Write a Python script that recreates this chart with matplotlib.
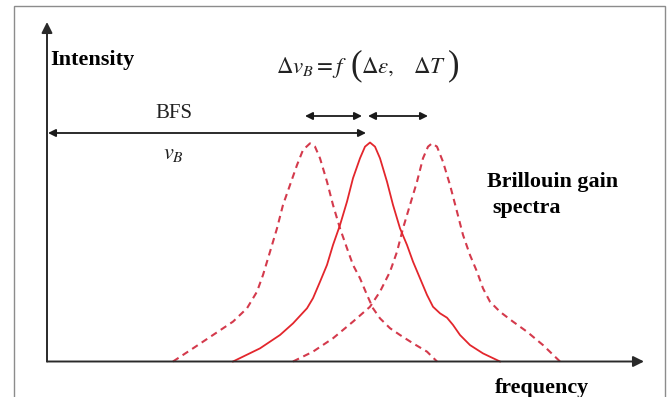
import numpy as np
import matplotlib
matplotlib.use("Agg")
import matplotlib.pyplot as plt
from matplotlib.patches import Rectangle

# frequency (arbitrary units, axis origin = 0) and normalised intensity
freq_center = [186, 213, 233, 246, 260, 266, 273, 280, 286, 293, 300, 306, 313, 318, 323, 328, 333,
               340, 346, 353, 360, 366, 373, 380, 386, 393, 400, 406, 413, 423, 436, 453]
gain_center = [0, 0.060, 0.121, 0.174, 0.243, 0.289, 0.364, 0.441, 0.532, 0.623, 0.730, 0.837, 0.928,
               0.981, 1.0, 0.981, 0.928, 0.821, 0.715, 0.608, 0.532, 0.456, 0.380, 0.304, 0.250,
               0.220, 0.200, 0.167, 0.121, 0.075, 0.037, 0]

freq_left = [126, 146, 166, 186, 200, 210, 216, 223, 230, 236, 243, 250, 256, 263, 268, 273, 280,
             286, 293, 300, 306, 313, 320, 326, 333, 343, 353, 366, 380, 390]
gain_left = [0, 0.060, 0.121, 0.182, 0.243, 0.319, 0.395, 0.501, 0.608, 0.715, 0.806, 0.897, 0.966,
             0.996, 0.981, 0.928, 0.821, 0.715, 0.608, 0.517, 0.441, 0.380, 0.304, 0.243, 0.197,
             0.152, 0.121, 0.083, 0.045, 0]

freq_right = [246, 266, 286, 306, 323, 333, 343, 350, 356, 363, 370, 376, 381, 385, 390, 396, 403,
              410, 416, 423, 430, 436, 443, 453, 466, 480, 496, 513]
gain_right = [0, 0.045, 0.106, 0.182, 0.250, 0.319, 0.410, 0.501, 0.608, 0.715, 0.821, 0.928, 0.981,
              0.996, 0.981, 0.912, 0.806, 0.684, 0.578, 0.486, 0.410, 0.334, 0.273, 0.227, 0.182,
              0.136, 0.075, 0]

W, H = 669, 397
fig = plt.figure(figsize=(W / 100, H / 100), dpi=100)
plt.rcParams['font.family'] = ['Liberation Serif', 'DejaVu Serif']
plt.rcParams['mathtext.fontset'] = 'stix'


def fx(x):
    return x / W


def fy(y):
    return 1 - y / H


# light grey frame around the picture
fig.add_artist(Rectangle((fx(14), fy(H + 20)), fx(665) - fx(14), fy(6) - fy(H + 20),
                         transform=fig.transFigure, fill=False, ec='#8c8c8c', lw=1.0))

base = 361.5   # pixel row of the frequency axis
unit = 219.0   # pixels for intensity 1
ax = fig.add_axes([fx(47), fy(base), fx(644) - fx(47), fy(22) - fy(base)])
ax.set_xlim(0, 597)
ax.set_ylim(0, (base - 22) / unit)
ax.axis('off')

dash = (0, (3.2, 2.3))
ax.plot(freq_left, gain_left, color='#d43a4c', lw=1.5, linestyle=dash, clip_on=False)
ax.plot(freq_right, gain_right, color='#d43a4c', lw=1.5, linestyle=dash, clip_on=False)
ax.plot(freq_center, gain_center, color='#e3262c', lw=1.3, clip_on=False)

# axes with arrow heads
axis_kw = dict(arrowstyle='-|>', lw=1.4, color='#2a2a2a', mutation_scale=16, shrinkA=0, shrinkB=0)
ax.annotate('', xy=(1, 0), xytext=(0, 0), xycoords='axes fraction', arrowprops=axis_kw)
ax.annotate('', xy=(0, 1), xytext=(0, 0), xycoords='axes fraction', arrowprops=axis_kw)

# BFS and shift arrows
pk_l = freq_left[int(np.argmax(gain_left))]
pk_c = freq_center[int(np.argmax(gain_center))]
pk_r = freq_right[int(np.argmax(gain_right))]
arr_kw = dict(arrowstyle='<|-|>', lw=1.3, color='#1a1a1a', mutation_scale=11, shrinkA=0, shrinkB=0)
y_bfs = (base - 133) / unit
y_shift = (base - 116) / unit
ax.annotate('', xy=(1, y_bfs), xytext=(pk_c - 4, y_bfs), arrowprops=arr_kw)
ax.annotate('', xy=(pk_l - 5, y_shift), xytext=(pk_c - 8, y_shift), arrowprops=arr_kw)
ax.annotate('', xy=(pk_c - 2, y_shift), xytext=(pk_r - 4, y_shift), arrowprops=arr_kw)

# labels
ink = '#222222'
fig.text(fx(50), fy(65), 'Intensity', fontsize=16, fontweight='bold', va='baseline', ha='left')
fig.text(fx(174), fy(118), 'BFS', fontsize=15, va='baseline', ha='center', color=ink)
fig.text(fx(173), fy(155), r'$v_B$', fontsize=16, va='center', ha='center', color=ink)

# Δν_B = f(Δε, ΔT) with tall brackets
fig.text(fx(276), fy(73), r'$\Delta v_B = f$', fontsize=16.5, va='baseline', ha='left', color=ink)
fig.text(fx(350), fy(66), '(', fontsize=25, va='center', ha='left', color=ink)
fig.text(fx(361), fy(73), r'$\Delta\varepsilon,\ \ \ \Delta T$', fontsize=16.5, va='baseline',
         ha='left', color=ink)
fig.text(fx(448), fy(66), ')', fontsize=25, va='center', ha='left', color=ink)

fig.text(fx(487), fy(187), 'Brillouin gain', fontsize=15.8, fontweight='bold', va='baseline', ha='left')
fig.text(fx(492), fy(213), 'spectra', fontsize=15.8, fontweight='bold', va='baseline', ha='left')
fig.text(fx(495), fy(393), 'frequency', fontsize=15.8, fontweight='bold', va='baseline', ha='left')

fig.savefig('out.png', dpi=100)
